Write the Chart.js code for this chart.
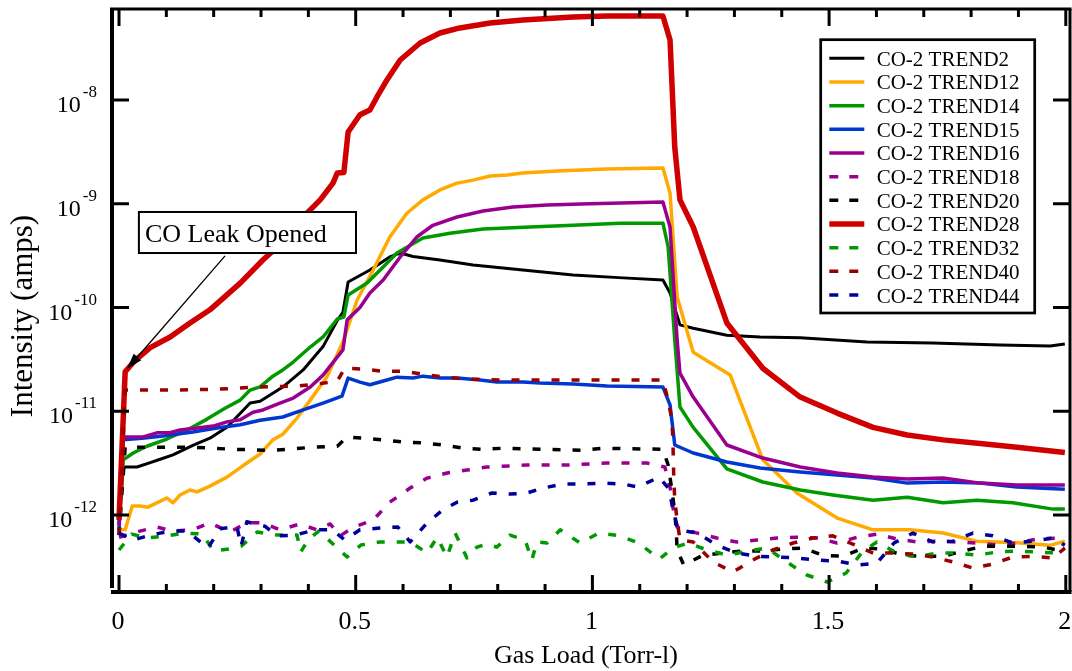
<!DOCTYPE html>
<html><head><meta charset="utf-8">
<style>html,body{margin:0;padding:0;background:#fff;}canvas{display:block;}</style>
<script src="https://cdn.jsdelivr.net/npm/chart.js@4.4.0/dist/chart.umd.min.js"></script>
</head><body>
<canvas id="c" width="1072" height="671"></canvas>
<script>
// ---------- data ----------
const trend2X = [0,0.009,0.038,0.066,0.087,0.114,0.156,0.192,0.228,0.277,0.298,0.346,0.389,0.431,0.461,0.473,0.484,0.530,0.572,0.594,0.621,0.678,0.748,0.853,0.959,1.065,1.149,1.164,1.185,1.213,1.284,1.354,1.439,1.580,1.719,1.861,1.967,1.998];
const trend2Y = [9e-13,2.9e-12,2.9e-12,3.2e-12,3.45e-12,3.8e-12,4.7e-12,5.5e-12,7.0e-12,1.2e-11,1.25e-11,1.71e-11,2.5e-11,4.2e-11,7.5e-11,9.0e-11,1.76e-10,2.3e-10,3.07e-10,3.35e-10,3.1e-10,2.87e-10,2.57e-10,2.3e-10,2.06e-10,1.93e-10,1.84e-10,1.38e-10,6.8e-11,6.3e-11,5.4e-11,5.2e-11,5.1e-11,4.65e-11,4.55e-11,4.35e-11,4.25e-11,4.45e-11];

const trend12X = [0,0.013,0.028,0.044,0.061,0.080,0.101,0.114,0.129,0.150,0.165,0.192,0.228,0.249,0.270,0.298,0.325,0.346,0.376,0.404,0.439,0.473,0.503,0.537,0.572,0.608,0.642,0.678,0.714,0.748,0.784,0.820,0.853,0.925,1.031,1.149,1.164,1.179,1.213,1.291,1.360,1.432,1.517,1.593,1.671,1.741,1.812,1.897,1.967,1.998];
const trend12Y = [7.2e-13,7.2e-13,1.22e-12,1.22e-12,1.19e-12,1.31e-12,1.46e-12,1.31e-12,1.56e-12,1.74e-12,1.67e-12,1.9e-12,2.32e-12,2.71e-12,3.17e-12,3.87e-12,5.3e-12,6.0e-12,8.6e-12,1.28e-11,2.14e-11,4.65e-11,1.18e-10,2.3e-10,4.78e-10,8.1e-10,1.09e-9,1.36e-9,1.58e-9,1.69e-9,1.85e-9,1.89e-9,1.98e-9,2.07e-9,2.16e-9,2.21e-9,1.27e-9,1.26e-10,3.7e-11,2.24e-11,3.4e-12,1.63e-12,9.35e-13,7.2e-13,7.2e-13,6.7e-13,5.6e-13,5.4e-13,5.1e-13,5.6e-13];

const trend14X = [0,0.009,0.030,0.059,0.101,0.144,0.186,0.224,0.256,0.277,0.298,0.325,0.346,0.368,0.404,0.431,0.461,0.475,0.484,0.524,0.558,0.587,0.642,0.699,0.769,0.868,0.959,1.058,1.149,1.160,1.174,1.185,1.213,1.284,1.360,1.439,1.508,1.593,1.665,1.741,1.812,1.888,1.973,1.998];
const trend14Y = [8e-13,3.4e-12,3.96e-12,4.6e-12,5.4e-12,6.6e-12,8.4e-12,1.07e-11,1.28e-11,1.6e-11,1.72e-11,2.18e-11,2.5e-11,2.98e-11,4.16e-11,5.2e-11,7.75e-11,8.1e-11,1.32e-10,1.72e-10,2.46e-10,3.35e-10,4.68e-10,5.2e-10,5.7e-10,5.97e-10,6.2e-10,6.5e-10,6.5e-10,3.83e-10,4.86e-11,1.1e-11,7.0e-12,2.78e-12,2.08e-12,1.74e-12,1.56e-12,1.39e-12,1.48e-12,1.31e-12,1.39e-12,1.31e-12,1.14e-12,1.14e-12];

const trend15X = [0,0.009,0.049,0.097,0.156,0.207,0.256,0.298,0.346,0.389,0.431,0.471,0.484,0.509,0.530,0.566,0.587,0.621,0.642,0.678,0.714,0.763,0.798,0.853,0.889,0.959,1.031,1.149,1.164,1.174,1.213,1.284,1.354,1.439,1.517,1.593,1.665,1.741,1.819,1.897,1.998];
const trend15Y = [7.2e-13,5.3e-12,5.5e-12,5.8e-12,6.3e-12,6.9e-12,7.4e-12,8.2e-12,8.8e-12,1.03e-11,1.2e-11,1.4e-11,2.09e-11,1.91e-11,1.8e-11,2.0e-11,2.13e-11,2.09e-11,2.18e-11,2.09e-11,2.09e-11,2.0e-11,1.91e-11,1.91e-11,1.87e-11,1.83e-11,1.75e-11,1.71e-11,1.15e-11,4.73e-12,3.96e-12,3.24e-12,2.84e-12,2.6e-12,2.43e-12,2.27e-12,2.03e-12,2.08e-12,2.03e-12,1.86e-12,1.77e-12];

const trend16X = [0,0.009,0.051,0.080,0.108,0.129,0.165,0.199,0.228,0.256,0.283,0.304,0.340,0.368,0.404,0.431,0.473,0.482,0.509,0.530,0.558,0.594,0.629,0.663,0.714,0.769,0.832,0.904,0.995,1.149,1.164,1.179,1.185,1.213,1.284,1.360,1.439,1.517,1.593,1.665,1.741,1.819,1.897,1.998];
const trend16Y = [8e-13,5.65e-12,5.65e-12,6.2e-12,6.2e-12,6.6e-12,6.9e-12,7.2e-12,7.9e-12,8.3e-12,9.8e-12,1.03e-11,1.2e-11,1.34e-11,1.71e-11,2.23e-11,3.9e-11,7.6e-11,1.0e-10,1.38e-10,1.84e-10,3.07e-10,4.78e-10,6.2e-10,7.45e-10,8.5e-10,9.3e-10,9.7e-10,1.0e-9,1.04e-9,5.97e-10,4.86e-11,2.33e-11,1.37e-11,4.73e-12,3.54e-12,2.9e-12,2.54e-12,2.33e-12,2.22e-12,2.27e-12,2.03e-12,1.95e-12,1.95e-12];

const trend18X = [0,0.044,0.080,0.114,0.156,0.192,0.234,0.270,0.304,0.340,0.382,0.418,0.446,0.467,0.496,0.537,0.572,0.615,0.651,0.693,0.735,0.777,0.862,0.946,1.031,1.115,1.153,1.164,1.170,1.179,1.221,1.263,1.305,1.348,1.390,1.432,1.474,1.517,1.559,1.601,1.643,1.686,1.728,1.770,1.812,1.855,1.897,1.939,1.981,1.998];
const trend18Y = [6.1e-13,7.0e-13,7.65e-13,7.0e-13,7.2e-13,8.4e-13,6.85e-13,8.4e-13,8.4e-13,7.2e-13,8.2e-13,7.2e-13,8.2e-13,6.3e-13,7.65e-13,8.95e-13,1.33e-12,1.82e-12,2.27e-12,2.54e-12,2.71e-12,2.9e-12,3.03e-12,3.03e-12,3.17e-12,3.17e-12,2.9e-12,1.86e-12,1.19e-12,7.65e-13,6.7e-13,6.0e-13,5.5e-13,5.74e-13,6.0e-13,6.1e-13,6.0e-13,5.37e-13,6.1e-13,6.55e-13,5.87e-13,5.5e-13,5.6e-13,5.5e-13,5.37e-13,5.14e-13,5.37e-13,5.87e-13,6.0e-13,5.74e-13];

const trend20X = [0,0.013,0.072,0.156,0.241,0.325,0.410,0.461,0.482,0.515,0.558,0.600,0.642,0.684,0.727,0.769,0.811,0.896,0.980,1.022,1.149,1.160,1.168,1.174,1.177,1.179,1.193,1.234,1.276,1.318,1.360,1.403,1.445,1.487,1.529,1.572,1.614,1.656,1.698,1.741,1.783,1.825,1.867,1.910,1.952,1.994];
const trend20Y = [6.4e-13,4.5e-12,4.5e-12,4.5e-12,4.3e-12,4.2e-12,4.5e-12,4.6e-12,5.65e-12,5.5e-12,5.3e-12,5.05e-12,4.95e-12,4.73e-12,4.4e-12,4.3e-12,4.4e-12,4.3e-12,4.2e-12,4.4e-12,4.3e-12,3.03e-12,1.74e-12,1.07e-12,7.2e-13,4.6e-13,3.3e-13,4.1e-13,4.3e-13,4.5e-13,4.5e-13,4.7e-13,4.8e-13,4.1e-13,4.0e-13,4.8e-13,4.7e-13,4.1e-13,4.0e-13,4.0e-13,4.5e-13,5.0e-13,5.0e-13,5.0e-13,4.9e-13,4.5e-13];

const trend28X = [0,0.013,0.034,0.066,0.108,0.150,0.192,0.256,0.304,0.334,0.389,0.425,0.452,0.461,0.475,0.484,0.509,0.530,0.545,0.566,0.594,0.636,0.678,0.720,0.784,0.853,0.959,1.031,1.149,1.164,1.174,1.185,1.213,1.284,1.360,1.439,1.517,1.593,1.665,1.741,1.819,1.897,1.998];
const trend28Y = [9e-13,2.4e-11,3.1e-11,4.1e-11,5.2e-11,7.1e-11,9.5e-11,1.72e-10,2.87e-10,3.83e-10,7.45e-10,1.09e-9,1.58e-9,1.98e-9,2.0e-9,4.92e-9,7.2e-9,8.0e-9,1.07e-8,1.56e-8,2.43e-8,3.54e-8,4.42e-8,4.95e-8,5.53e-8,5.91e-8,6.3e-8,6.45e-8,6.45e-8,3.79e-8,3.5e-9,1.09e-9,5.97e-10,7.1e-11,2.6e-11,1.37e-11,9.6e-12,7.0e-12,5.9e-12,5.3e-12,4.9e-12,4.5e-12,4.0e-12];

const trend32X = [0,0.027,0.059,0.101,0.137,0.177,0.199,0.232,0.258,0.292,0.334,0.376,0.384,0.399,0.422,0.452,0.482,0.511,0.551,0.587,0.615,0.651,0.672,0.693,0.710,0.729,0.735,0.756,0.777,0.798,0.826,0.858,0.872,0.883,0.904,0.932,0.974,1.014,1.058,1.098,1.141,1.170,1.202,1.242,1.286,1.329,1.369,1.414,1.453,1.496,1.536,1.570,1.601,1.643,1.686,1.728,1.770,1.812,1.855,1.897,1.939,1.981,1.998];
const trend32Y = [4.6e-13,6.55e-13,6.0e-13,6.3e-13,6.7e-13,6.55e-13,4.5e-13,4.7e-13,5.0e-13,6.85e-13,6.4e-13,6.4e-13,4.4e-13,5.74e-13,7.0e-13,5.26e-13,3.94e-13,5.14e-13,5.5e-13,5.5e-13,5.5e-13,4.3e-13,6.1e-13,3.94e-13,6.7e-13,4.4e-13,3.85e-13,4.9e-13,5.26e-13,4.9e-13,6.4e-13,5.74e-13,3.68e-13,5.5e-13,5.37e-13,7.2e-13,5.37e-13,6.7e-13,6.3e-13,5.37e-13,3.76e-13,4.8e-13,5.37e-13,4.6e-13,4.1e-13,4.5e-13,4.8e-13,3.44e-13,2.64e-13,2.26e-13,2.76e-13,4.4e-13,5.5e-13,4.3e-13,3.94e-13,4.3e-13,4.3e-13,4.1e-13,4.4e-13,4.5e-13,4.4e-13,4.3e-13,4.8e-13];

const trend40X = [0,0.013,0.038,0.123,0.207,0.292,0.376,0.418,0.461,0.477,0.515,0.558,0.600,0.642,0.684,0.727,0.811,0.938,1.149,1.160,1.168,1.170,1.172,1.174,1.179,1.185,1.213,1.255,1.297,1.339,1.381,1.424,1.466,1.508,1.550,1.593,1.635,1.677,1.719,1.762,1.804,1.846,1.888,1.931,1.973,1.998];
const trend40Y = [6.4e-13,1.6e-11,1.6e-11,1.6e-11,1.63e-11,1.71e-11,1.75e-11,1.83e-11,1.95e-11,2.6e-11,2.55e-11,2.43e-11,2.43e-11,2.28e-11,2.14e-11,2.05e-11,2.0e-11,2.0e-11,2.0e-11,1.28e-11,8.2e-12,5.3e-12,2.17e-12,1.39e-12,8.95e-13,5.74e-13,5.5e-13,3.53e-13,2.82e-13,3.68e-13,4.6e-13,5.37e-13,6.0e-13,6.3e-13,5.25e-13,4.3e-13,4.3e-13,4.2e-13,3.94e-13,3.53e-13,3.08e-13,3.37e-13,3.94e-13,4.0e-13,3.85e-13,4.8e-13];

const trend44X = [0,0.030,0.066,0.108,0.144,0.188,0.213,0.249,0.258,0.270,0.308,0.334,0.372,0.414,0.450,0.477,0.509,0.551,0.589,0.615,0.651,0.684,0.714,0.748,0.788,0.826,0.862,0.896,0.938,0.980,1.022,1.065,1.096,1.141,1.162,1.170,1.181,1.221,1.263,1.305,1.348,1.390,1.432,1.474,1.517,1.559,1.601,1.637,1.677,1.719,1.762,1.804,1.846,1.888,1.931,1.973,1.998];
const trend44Y = [6.7e-13,5.74e-13,6.4e-13,7.0e-13,7.0e-13,4.8e-13,7.35e-13,7.8e-13,5.0e-13,8.6e-13,7.8e-13,6.3e-13,6.4e-13,7.2e-13,7.2e-13,5.74e-13,7.2e-13,7.5e-13,7.65e-13,5.5e-13,8.4e-13,1.12e-12,1.33e-12,1.39e-12,1.63e-12,1.59e-12,1.63e-12,1.82e-12,1.99e-12,1.99e-12,2.03e-12,1.99e-12,1.86e-12,2.32e-12,1.78e-12,1.14e-12,7.2e-13,6.7e-13,5.14e-13,4.3e-13,4.0e-13,3.94e-13,3.85e-13,3.68e-13,3.6e-13,3.3e-13,3.44e-13,5.37e-13,6.7e-13,5.5e-13,5.6e-13,6.7e-13,6.3e-13,5.37e-13,5.6e-13,6.0e-13,5.1e-13];

const seriesLabels = ['CO-2 TREND2','CO-2 TREND12','CO-2 TREND14','CO-2 TREND15','CO-2 TREND16','CO-2 TREND18','CO-2 TREND20','CO-2 TREND28','CO-2 TREND32','CO-2 TREND40','CO-2 TREND44'];

// ticks
const xMajorTicks = [0, 0.5, 1, 1.5, 2];
const xMajorLabels = ['0', '0.5', '1', '1.5', '2'];
const xMinorTicks = [0.1,0.2,0.3,0.4,0.6,0.7,0.8,0.9,1.1,1.2,1.3,1.4,1.6,1.7,1.8,1.9];
const yTickExponents = [-12, -11, -10, -9, -8];

// annotation (data coordinates)
const noteText = 'CO Leak Opened';
const noteBoxX = [0.042, 0.5006];
const noteBoxY = [8.33e-10, 3.35e-10];
const noteArrowFrom = [0.224, 3.14e-10];
const noteArrowTo = [0.0169, 2.55e-11];

// ---------- styles ----------
const SERIF = '"Liberation Serif", "Times New Roman", Times, serif';
const seriesColors = ['#000000','#ffaa00','#009a00','#0037d0','#990090','#990090','#000000','#d00000','#009a00','#990000','#000099'];
const seriesWidths = [3, 3.5, 3.5, 3.5, 3.5, 3.5, 3.5, 5.5, 3.5, 3.5, 3.5];
const seriesDashed = [false,false,false,false,false,true,true,false,true,true,true];
const DASH = [8, 12];

const seriesX = [trend2X,trend12X,trend14X,trend15X,trend16X,trend18X,trend20X,trend28X,trend32X,trend40X,trend44X];
const seriesY = [trend2Y,trend12Y,trend14Y,trend15Y,trend16Y,trend18Y,trend20Y,trend28Y,trend32Y,trend40Y,trend44Y];

const datasets = seriesLabels.map((label, i) => ({
  label,
  data: seriesX[i].map((x, j) => ({x, y: seriesY[i][j]})),
  borderColor: seriesColors[i],
  backgroundColor: seriesColors[i],
  borderWidth: seriesWidths[i],
  borderDash: seriesDashed[i] ? DASH : [],
  borderCapStyle: 'butt',
  borderJoinStyle: 'round',
  pointRadius: 0,
  tension: 0,
  fill: false,
  order: -i
}));

const decor = {
  id: 'decor',
  afterDraw(chart) {
    const {ctx, chartArea: a, scales: {x, y}} = chart;
    ctx.save();

    // --- annotation box + arrow ---
    const bx1 = x.getPixelForValue(noteBoxX[0]), bx2 = x.getPixelForValue(noteBoxX[1]);
    const by1 = y.getPixelForValue(noteBoxY[0]), by2 = y.getPixelForValue(noteBoxY[1]);
    ctx.fillStyle = '#fff';
    ctx.fillRect(bx1, by1, bx2 - bx1, by2 - by1);
    ctx.lineWidth = 2;
    ctx.strokeStyle = '#000';
    ctx.strokeRect(bx1, by1, bx2 - bx1, by2 - by1);
    ctx.fillStyle = '#000';
    ctx.font = '26px ' + SERIF;
    ctx.textAlign = 'left';
    ctx.textBaseline = 'alphabetic';
    ctx.fillText(noteText, bx1 + 6, (by1 + by2) / 2 + 9);

    const ax1 = x.getPixelForValue(noteArrowFrom[0]), ay1 = y.getPixelForValue(noteArrowFrom[1]);
    const ax2 = x.getPixelForValue(noteArrowTo[0]), ay2 = y.getPixelForValue(noteArrowTo[1]);
    const ang = Math.atan2(ay2 - ay1, ax2 - ax1);
    const hl = 16, hw = 5;
    const baseX = ax2 - hl * Math.cos(ang), baseY = ay2 - hl * Math.sin(ang);
    ctx.lineWidth = 1.3;
    ctx.beginPath(); ctx.moveTo(ax1, ay1); ctx.lineTo(baseX, baseY); ctx.stroke();
    ctx.beginPath();
    ctx.moveTo(ax2, ay2);
    ctx.lineTo(baseX + hw * Math.sin(ang), baseY - hw * Math.cos(ang));
    ctx.lineTo(baseX - hw * Math.sin(ang), baseY + hw * Math.cos(ang));
    ctx.closePath(); ctx.fill();

    // --- legend ---
    const lx1 = 820.7, ly1 = 39.7, lx2 = 1034.7, ly2 = 313;
    ctx.fillStyle = '#fff';
    ctx.fillRect(lx1, ly1, lx2 - lx1, ly2 - ly1);
    ctx.lineWidth = 2.7;
    ctx.strokeStyle = '#000';
    ctx.strokeRect(lx1, ly1, lx2 - lx1, ly2 - ly1);
    ctx.font = '21px ' + SERIF;
    ctx.textAlign = 'left';
    ctx.textBaseline = 'alphabetic';
    chart.data.datasets.forEach((ds, i) => {
      const cy = 58.3 + i * 23.67;
      ctx.strokeStyle = ds.borderColor;
      ctx.lineWidth = ds.borderWidth;
      ctx.lineCap = 'butt';
      ctx.setLineDash(ds.borderDash.length ? [9, 11] : []);
      ctx.beginPath(); ctx.moveTo(829.3, cy); ctx.lineTo(864.3, cy); ctx.stroke();
      ctx.setLineDash([]);
      ctx.fillStyle = '#000';
      ctx.fillText(ds.label, 876.7, cy + 7.5);
    });

    // --- frame ---
    ctx.strokeStyle = '#000';
    ctx.setLineDash([]);
    ctx.lineCap = 'butt';
    ctx.lineWidth = 3;
    ctx.beginPath(); ctx.moveTo(a.left - 2, a.top); ctx.lineTo(a.right + 1.5, a.top); ctx.stroke();
    ctx.beginPath(); ctx.moveTo(a.right, a.top); ctx.lineTo(a.right, a.bottom); ctx.stroke();
    ctx.lineWidth = 4;
    ctx.beginPath(); ctx.moveTo(a.left, a.top); ctx.lineTo(a.left, a.bottom - 4); ctx.stroke();
    ctx.beginPath(); ctx.moveTo(a.left - 1, a.bottom); ctx.lineTo(a.right + 1.5, a.bottom); ctx.stroke();

    // --- ticks ---
    ctx.lineWidth = 3;
    const tick = (x1, y1, x2, y2) => { ctx.beginPath(); ctx.moveTo(x1, y1); ctx.lineTo(x2, y2); ctx.stroke(); };
    xMajorTicks.forEach(v => {
      const px = x.getPixelForValue(v);
      tick(px, a.bottom, px, a.bottom - 17);
      tick(px, a.top, px, a.top + 17);
    });
    xMinorTicks.forEach(v => {
      const px = x.getPixelForValue(v);
      tick(px, a.bottom, px, a.bottom - 8);
      tick(px, a.top, px, a.top + 8);
    });
    yTickExponents.forEach(e => {
      const py = y.getPixelForValue(Math.pow(10, e));
      tick(a.left, py, a.left + 17, py);
      tick(a.right, py, a.right - 17, py);
    });

    // --- tick labels ---
    ctx.fillStyle = '#000';
    ctx.font = '26px ' + SERIF;
    ctx.textAlign = 'center';
    ctx.textBaseline = 'alphabetic';
    xMajorTicks.forEach((v, i) => {
      ctx.fillText(xMajorLabels[i], x.getPixelForValue(v) - 1, 629);
    });
    yTickExponents.forEach(e => {
      const py = y.getPixelForValue(Math.pow(10, e));
      const sup = String(e);
      ctx.font = '17px ' + SERIF;
      ctx.textAlign = 'right';
      ctx.fillText(sup, 97, py - 3);
      const w = ctx.measureText(sup).width;
      ctx.font = '24px ' + SERIF;
      ctx.fillText('10', 97 - w - 2, py + 12);
    });

    // --- axis titles ---
    ctx.font = '26px ' + SERIF;
    ctx.textAlign = 'center';
    ctx.fillText('Gas Load (Torr-l)', 586, 663);
    ctx.save();
    ctx.translate(32, 316);
    ctx.rotate(-Math.PI / 2);
    ctx.font = '31px ' + SERIF;
    ctx.fillText('Intensity (amps)', 0, 0);
    ctx.restore();

    ctx.restore();
  }
};

new Chart(document.getElementById('c'), {
  type: 'line',
  data: { datasets },
  options: {
    responsive: false,
    devicePixelRatio: 1,
    animation: false,
    layout: { padding: { left: 0, right: 2, top: 9, bottom: 0 } },
    plugins: { legend: { display: false }, tooltip: { enabled: false } },
    scales: {
      x: {
        type: 'linear',
        min: -0.0148,
        max: 2.0089,
        grid: { display: false },
        border: { display: false },
        ticks: { display: false },
        afterBuildTicks: s => { s.ticks = xMajorTicks.map(v => ({value: v})); },
        afterFit: s => { s.height = 79; }
      },
      y: {
        type: 'logarithmic',
        min: Math.pow(10, -12.742),
        max: Math.pow(10, -7.123),
        grid: { display: false },
        border: { display: false },
        ticks: { display: false },
        afterBuildTicks: s => { s.ticks = yTickExponents.map(e => ({value: Math.pow(10, e)})); },
        afterFit: s => { s.width = 112; }
      }
    }
  },
  plugins: [decor]
});
</script>
</body></html>
